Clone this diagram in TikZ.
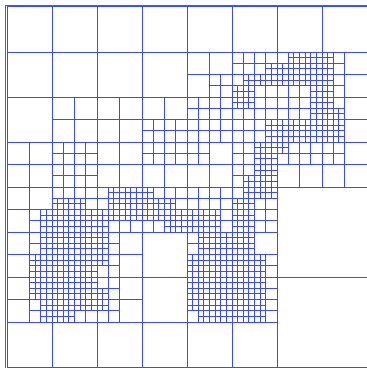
\documentclass[tikz,border=0pt]{standalone}
\usepackage{tikz}
\usepackage{xcolor}
\usetikzlibrary{calc}

\definecolor{meshblue}{RGB}{60,75,250}
\definecolor{framered}{RGB}{235,40,40}
\tikzset{mesh/.style={draw=meshblue, line width=0.75pt}}

% one row of the level map: 2 = 16x16 leaf, 3 = 8x8, 4 = 4x4, 5 = 2x2, 6 = split into 1x1
\newcount\meshcol
\newcommand{\meshrow}[2]{\meshcol=0 \def\meshb{#1}\meshcell#2\relax}
\def\meshcell#1{%
  \ifx\relax#1\else
    \meshleaf{#1}%
    \advance\meshcol by 1
    \expandafter\meshcell
  \fi}
\newcommand{\meshleaf}[1]{%
  \ifnum#1=6
    \pgfmathtruncatemacro{\mx}{2*\the\meshcol}%
    \pgfmathtruncatemacro{\my}{62-2*\meshb}%
    \draw[mesh] (\mx,\my) rectangle +(2,2) (\mx+1,\my) -- +(0,2) (\mx,\my+1) -- +(2,0);
  \else
    \pgfmathtruncatemacro{\ms}{2^(6-#1)}%
    \pgfmathtruncatemacro{\mk}{mod(2*\the\meshcol,\ms)+mod(2*\meshb,\ms)}%
    \ifnum\mk=0
      \pgfmathtruncatemacro{\mx}{2*\the\meshcol}%
      \pgfmathtruncatemacro{\my}{64-2*\meshb-\ms}%
      \draw[mesh] (\mx,\my) rectangle +(\ms,\ms);
    \fi
  \fi}

\begin{document}
\begin{tikzpicture}[x=0.15cm, y=0.15cm]
  \useasboundingbox (-1.244,-0.178) rectangle (63.822,65.244);

  \foreach \b in {0,...,3} {\meshrow{\b}{3333 3333 3333 3333 3333 3333 3333 3333}}
  \meshrow{4}{3333 3333 3333 3333 4444 5555 5666 6544}
  \meshrow{5}{3333 3333 3333 3333 4444 5556 6666 6544}
  \meshrow{6}{3333 3333 3333 3333 4455 5666 6666 6544}
  \meshrow{7}{3333 3333 3333 3333 4455 6655 5556 6544}
  \meshrow{8}{3333 4444 4444 4444 5555 6655 5556 6544}
  \meshrow{9}{3333 4444 4444 4444 5555 5555 5556 6644}
  \meshrow{10}{3333 4444 4444 5555 5555 5556 6666 6644}
  \meshrow{11}{3333 4444 4444 5555 5555 5556 6666 6644}
  \meshrow{12}{4444 5555 4444 5555 5544 5566 6555 5544}
  \meshrow{13}{4444 5555 4444 5555 5544 5566 5555 5544}
  \meshrow{14}{4444 5555 4444 4444 4444 5566 4444 4444}
  \meshrow{15}{4444 5555 4444 4444 4444 5666 4444 4444}
  \meshrow{16}{4444 5555 5666 6555 5555 5666 2222 2222}
  \meshrow{17}{4444 6665 5666 6665 5555 6655 2222 2222}
  \meshrow{18}{4456 6666 6666 6666 6665 6655 2222 2222}
  \meshrow{19}{4456 6666 6555 5566 6665 6655 2222 2222}
  \meshrow{20}{4456 6666 6544 3333 5666 6644 2222 2222}
  \meshrow{21}{4456 6666 6544 3333 5666 6644 2222 2222}
  \meshrow{22}{4466 6666 6544 3333 6666 6665 2222 2222}
  \meshrow{23}{4466 6666 5544 3333 6666 6665 2222 2222}
  \meshrow{24}{4466 6666 5544 3333 6666 6665 2222 2222}
  \meshrow{25}{4466 6666 6544 3333 6666 6665 2222 2222}
  \meshrow{26}{4456 6666 6544 3333 6666 6665 2222 2222}
  \meshrow{27}{4456 6655 5544 3333 5666 6665 2222 2222}
  \foreach \b in {28,...,31} {\meshrow{\b}{3333 3333 3333 3333 3333 3333 2222 2222}}

  \draw[framered, line width=0.9pt] (-0.2,-0.5) -- (-0.2,64.2) -- (64.5,64.2);
\end{tikzpicture}
\end{document}
